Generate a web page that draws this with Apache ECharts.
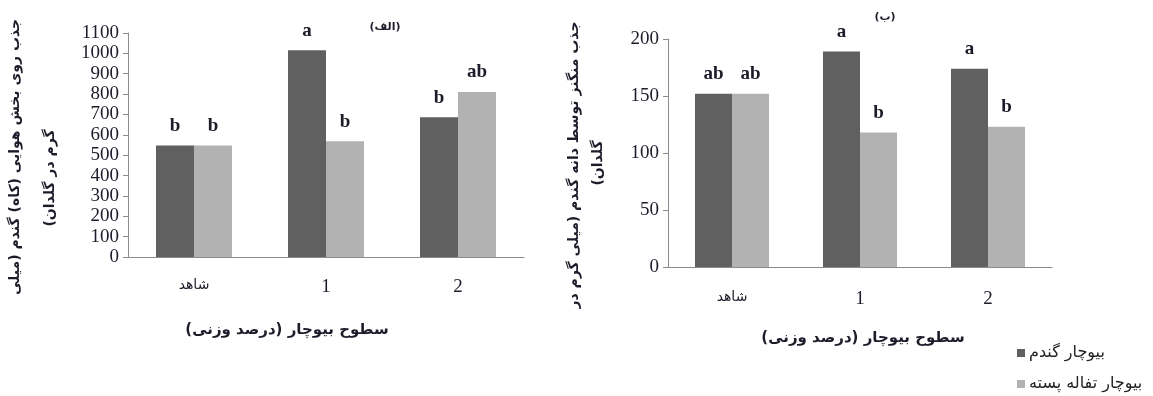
<!DOCTYPE html>
<html><head><meta charset="utf-8">
<script src="https://cdn.jsdelivr.net/npm/echarts@6/dist/echarts.min.js"></script>
<style>html,body{margin:0;padding:0;background:#fff}#c{width:1153px;height:396px}</style>
</head><body><div id="c"></div>
<script>
const RLM = '\u200F';
const categories = ['شاهد', '1', '2'];
const seriesNames = ['بیوچار گندم', 'بیوچار تفاله پسته'];
// Left panel (الف): shoot uptake
const leftWheat = [548, 1015, 686];
const leftPist = [548, 568, 810];
const leftWheatLetters = ['b', 'a', 'b'];
const leftPistLetters = ['b', 'b', 'ab'];
// Right panel (ب): grain Mn uptake
const rightWheat = [152, 189, 174];
const rightPist = [152, 118, 123];
const rightWheatLetters = ['ab', 'a', 'a'];
const rightPistLetters = ['ab', 'b', 'b'];

const DARK = '#606060', LIGHT = '#b2b2b2', TXT = '#1c1c2a', AX = '#8c8c8c';
const serif = 'Liberation Serif';
const fa = 'DejaVu Sans';

function lbl(letters) {
  return { show: true, position: 'top', distance: 10, formatter: p => letters[p.dataIndex],
    fontFamily: serif, fontWeight: 'bold', fontSize: 19, color: TXT };
}
function xAx(gi, margin) {
  return { type: 'category', gridIndex: gi, data: categories,
    axisLine: { lineStyle: { color: AX, width: 1 } }, axisTick: { show: false },
    axisLabel: { margin: margin, fontSize: 19, fontFamily: serif, color: TXT,
      rich: { fa: { fontFamily: fa, fontSize: 14, color: TXT } },
      formatter: (v, i) => i === 0 ? '{fa|' + v + '}' : v } };
}
function yAx(gi, max, interval) {
  return { type: 'value', gridIndex: gi, min: 0, max: max, interval: interval,
    splitLine: { show: false },
    axisLine: { show: true, lineStyle: { color: AX } },
    axisTick: { show: true, length: 5, lineStyle: { color: AX } },
    axisLabel: { margin: 9, fontSize: 19, fontFamily: serif, color: TXT, formatter: v => String(v) } };
}
function leg(i, top) {
  return { orient: 'vertical', left: 1012, top: top, itemWidth: 8, itemHeight: 8, itemGap: 4,
    icon: 'rect', data: [seriesNames[i]], selectedMode: false,
    textStyle: { fontFamily: fa, fontSize: 16, color: '#222', padding: [0, 0, 0, -1] } };
}
function t(text, x, y, size, rot) {
  return { type: 'text', x: x, y: y, rotation: rot || 0,
    style: { text: RLM + text + RLM, font: 'bold ' + size + 'px "DejaVu Sans"', fill: TXT, align: 'center', verticalAlign: 'middle' } };
}
const chart = echarts.init(document.getElementById('c'), null, { renderer: 'canvas' });
chart.setOption({
  animation: false,
  grid: [
    { left: 128, top: 33, width: 396, height: 224 },
    { left: 668, top: 39, width: 384, height: 228 }
  ],
  xAxis: [xAx(0, 21), xAx(1, 23)],
  yAxis: [yAx(0, 1100, 100), yAx(1, 200, 50)],
  legend: [leg(0, 340), leg(1, 371)],
  series: [
    { name: seriesNames[0], type: 'bar', xAxisIndex: 0, yAxisIndex: 0, data: leftWheat, barWidth: 38, barGap: '0%', itemStyle: { color: DARK }, label: lbl(leftWheatLetters) },
    { name: seriesNames[1], type: 'bar', xAxisIndex: 0, yAxisIndex: 0, data: leftPist, barWidth: 38, barGap: '0%', itemStyle: { color: LIGHT }, label: lbl(leftPistLetters) },
    { name: seriesNames[0], type: 'bar', xAxisIndex: 1, yAxisIndex: 1, data: rightWheat, barWidth: 37, barGap: '0%', itemStyle: { color: DARK }, label: lbl(rightWheatLetters) },
    { name: seriesNames[1], type: 'bar', xAxisIndex: 1, yAxisIndex: 1, data: rightPist, barWidth: 37, barGap: '0%', itemStyle: { color: LIGHT }, label: lbl(rightPistLetters) }
  ],
  graphic: [
    t('(الف)', 385, 27, 11),
    t('(ب)', 885, 17, 11),
    t('جذب روی بخش هوایی (کاه) گندم (میلی', 15, 157, 14, Math.PI / 2),
    t('گرم در گلدان)', 50, 178, 14, Math.PI / 2),
    t('جذب منگنز توسط دانه گندم (میلی گرم در', 574, 165, 14, Math.PI / 2),
    t('گلدان)', 598, 163, 14, Math.PI / 2),
    t('سطوح بیوچار (درصد وزنی)', 287, 330, 15),
    t('سطوح بیوچار (درصد وزنی)', 863, 338, 15)
  ]
});
</script></body></html>
